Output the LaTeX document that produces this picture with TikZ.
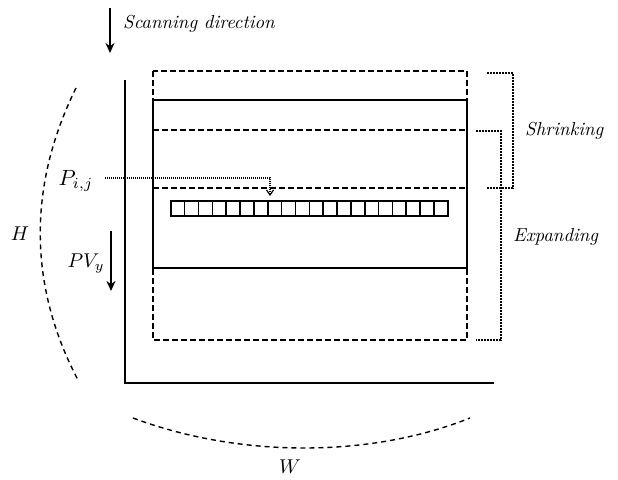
\documentclass[tikz,border=0pt]{standalone}
\usepackage{graphicx}
\usetikzlibrary{arrows.meta}
\newcommand{\bigtxt}[1]{\scalebox{1.88}{#1}}
\newcommand{\bigmth}[1]{\scalebox{2.0}{#1}}
\begin{document}
\begin{tikzpicture}[x=1pt,y=-1pt,
  lbl/.style={inner sep=0pt},
  axis/.style={line width=2.2pt},
  dsh/.style={line width=2pt,dash pattern=on 6pt off 3pt},
  sol/.style={line width=2pt},
  dot/.style={line width=2pt,dash pattern=on 1.6pt off 1.4pt},
  thindot/.style={line width=1.2pt,dash pattern=on 1pt off 1pt},
  arc/.style={line width=1.4pt,dash pattern=on 5pt off 4pt},
  arr/.style={line width=2pt,-{Stealth[length=10pt,width=9pt]}}]
\useasboundingbox (0,0) rectangle (618,479);
% scanning direction
\coordinate (s1) at (110,8);
\coordinate (s2) at (110,53);
\draw[arr] (s1) -- (s2);
\node[lbl,anchor=west] (scan) at (123,24) {\bigtxt{\textit{Scanning direction}}};
% axes
\coordinate (o) at (125,383);
\coordinate (ytop) at (125,80);
\coordinate (xend) at (494,383);
\draw[axis] (ytop) -- (o) -- (xend);
% dashed outer rectangle
\coordinate (d1) at (153,71);
\coordinate (d2) at (467,340);
\draw[dsh] (d1) rectangle (d2);
% solid rectangle
\coordinate (r1) at (153,100);
\coordinate (r2) at (467,268);
\draw[sol] (r1) rectangle (r2);
% dashed inner lines
\coordinate (a1) at (153,130); \coordinate (a2) at (467,130);
\coordinate (b1) at (153,188); \coordinate (b2) at (467,188);
\draw[dsh] (a1) -- (a2);
\draw[dsh] (b1) -- (b2);
% pixel row
\foreach \i in {0,...,19}{
  \node[draw,line width=1.6pt,minimum width=13.85pt,minimum height=15pt,inner sep=0pt,anchor=north west] (c\i) at ({170+13.85*\i},200) {};
}
% P label and dotted arrow
\node[lbl] (P) at (76,181) {\scalebox{2.2}{$P_{i,j}$}};
\coordinate (ps) at (105,178);
\coordinate (pc) at (270,178);
\coordinate (pe) at (270,196);
\draw[thindot,-{Straight Barb[length=5pt,width=7pt]}] (ps) -- (pc) -- (pe);
% PVy
\node[lbl] (PV) at (86,264) {\bigmth{$PV_y$}};
\coordinate (v1) at (111,231);
\coordinate (v2) at (111,291);
\draw[arr] (v1) -- (v2);
% H and arc
\node[lbl] (H) at (20,234) {\bigmth{$H$}};
\coordinate (h1) at (76,88);
\coordinate (h2) at (78,380);
\draw[arc] (h1) .. controls (28,185) and (28,285) .. (h2);
% W and arc
\node[lbl] (W) at (290,467) {\bigmth{$W$}};
\coordinate (w1) at (133,418);
\coordinate (w2) at (470,418);
\draw[arc] (w1) .. controls (240,458) and (370,458) .. (w2);
% brackets
\coordinate (k1) at (487,73); \coordinate (k2) at (513,73);
\coordinate (k3) at (513,188); \coordinate (k4) at (487,188);
\draw[dot] (k1) -- (k2) -- (k3) -- (k4);
\coordinate (e1) at (476,131); \coordinate (e2) at (501,131);
\coordinate (e3) at (501,340); \coordinate (e4) at (476,340);
\draw[dot] (e1) -- (e2) -- (e3) -- (e4);
\node[lbl,anchor=west] (shr) at (525,131) {\bigtxt{\textit{Shrinking}}};
\node[lbl,anchor=west] (exp) at (513,237) {\bigtxt{\textit{Expanding}}};
\end{tikzpicture}
\end{document}
